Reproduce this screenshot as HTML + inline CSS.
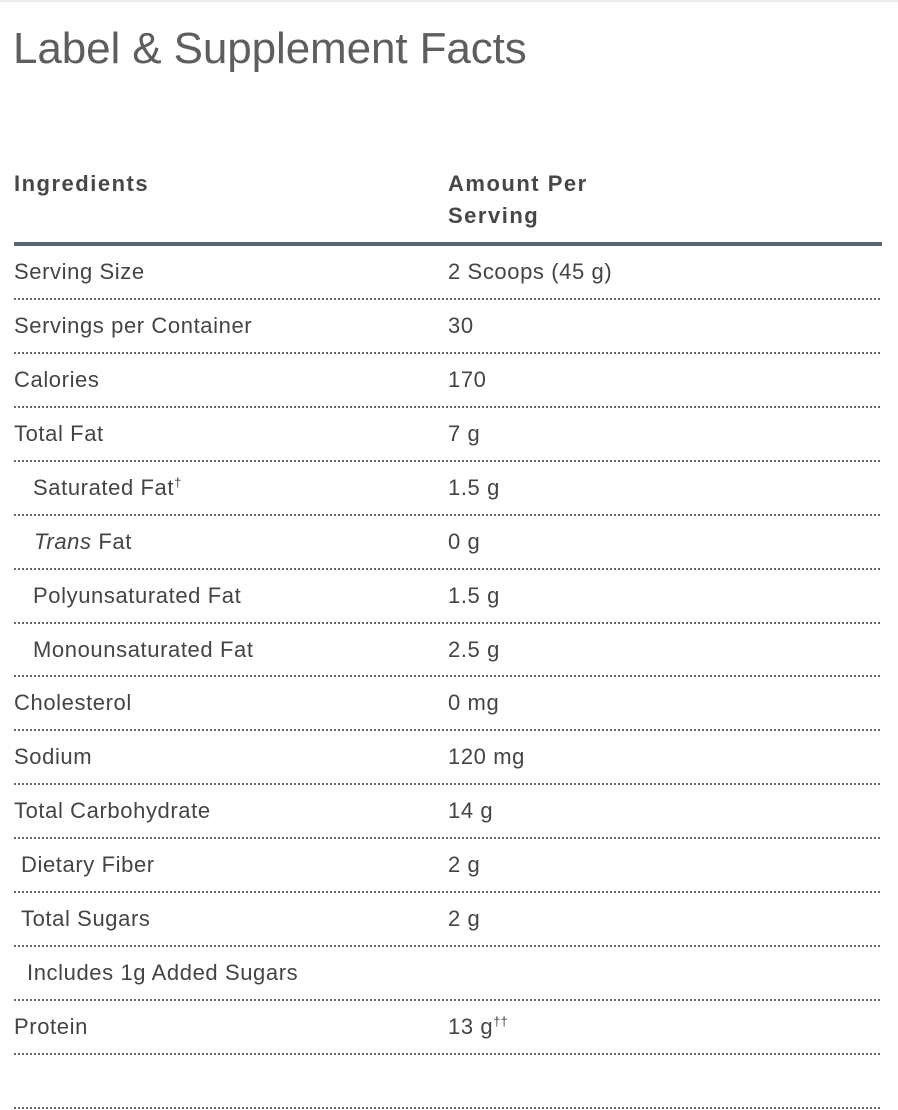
<!DOCTYPE html>
<html>
<head>
<meta charset="utf-8">
<style>
  html, body { margin:0; padding:0; }
  body { width:898px; height:1110px; position:relative; background:#fff; overflow:hidden;
         font-family:"Liberation Sans", Arial, sans-serif; color:#474747; }
  .topbar { position:absolute; left:0; top:0; width:898px; height:2px; background:#ececec; }
  .title { position:absolute; left:13px; top:27px; font-size:44px; line-height:44px; color:#5e5e5e; white-space:nowrap; letter-spacing:-0.1px; }
  .hdr { position:absolute; font-weight:bold; font-size:22px; line-height:32px; letter-spacing:1.5px; color:#474747; white-space:nowrap; }
  .thick { position:absolute; left:14px; top:242px; width:868px; height:4px; background:#5b6770; }
  .dot { position:absolute; left:14px; width:868px; height:2px;
         background:repeating-linear-gradient(90deg, #5f6a72 0 2px, transparent 2px 4px); }
  .cell { position:absolute; font-size:22px; height:52px; line-height:52px; letter-spacing:0.6px; white-space:nowrap; color:#444; }
  .c1 { left:14px; }
  .c2 { left:448px; }
  sup { font-size:13px; line-height:0; vertical-align:8px; letter-spacing:0; }
</style>
</head>
<body>
<div class="topbar"></div>
<div class="title">Label &amp; Supplement Facts</div>

<div class="hdr" style="left:14px; top:168px;">Ingredients</div>
<div class="hdr" style="left:448px; top:168px;">Amount Per<br>Serving</div>
<div class="thick"></div>

<div class="cell c1" style="top:246px;">Serving Size</div>
<div class="cell c2" style="top:246px;">2 Scoops (45 g)</div>
<div class="dot" style="top:298px;"></div>

<div class="cell c1" style="top:300px;">Servings per Container</div>
<div class="cell c2" style="top:300px;">30</div>
<div class="dot" style="top:351.9px;"></div>

<div class="cell c1" style="top:353.9px;">Calories</div>
<div class="cell c2" style="top:353.9px;">170</div>
<div class="dot" style="top:405.9px;"></div>

<div class="cell c1" style="top:407.9px;">Total Fat</div>
<div class="cell c2" style="top:407.9px;">7 g</div>
<div class="dot" style="top:459.8px;"></div>

<div class="cell c1" style="top:461.8px; left:33px;">Saturated Fat<sup>†</sup></div>
<div class="cell c2" style="top:461.8px;">1.5 g</div>
<div class="dot" style="top:513.7px;"></div>

<div class="cell c1" style="top:515.7px; left:34px;"><i>Trans</i> Fat</div>
<div class="cell c2" style="top:515.7px;">0 g</div>
<div class="dot" style="top:567.6px;"></div>

<div class="cell c1" style="top:569.6px; left:33px;">Polyunsaturated Fat</div>
<div class="cell c2" style="top:569.6px;">1.5 g</div>
<div class="dot" style="top:621.5px;"></div>

<div class="cell c1" style="top:623.5px; left:33px;">Monounsaturated Fat</div>
<div class="cell c2" style="top:623.5px;">2.5 g</div>
<div class="dot" style="top:675.4px;"></div>

<div class="cell c1" style="top:677.4px;">Cholesterol</div>
<div class="cell c2" style="top:677.4px;">0 mg</div>
<div class="dot" style="top:729.4px;"></div>

<div class="cell c1" style="top:731.4px;">Sodium</div>
<div class="cell c2" style="top:731.4px;">120 mg</div>
<div class="dot" style="top:783.3px;"></div>

<div class="cell c1" style="top:785.3px;">Total Carbohydrate</div>
<div class="cell c2" style="top:785.3px;">14 g</div>
<div class="dot" style="top:837.2px;"></div>

<div class="cell c1" style="top:839.2px; left:21px;">Dietary Fiber</div>
<div class="cell c2" style="top:839.2px;">2 g</div>
<div class="dot" style="top:891.1px;"></div>

<div class="cell c1" style="top:893.1px; left:21px;">Total Sugars</div>
<div class="cell c2" style="top:893.1px;">2 g</div>
<div class="dot" style="top:945.0px;"></div>

<div class="cell c1" style="top:947.0px; left:27px;">Includes 1g Added Sugars</div>
<div class="dot" style="top:999.0px;"></div>

<div class="cell c1" style="top:1001px;">Protein</div>
<div class="cell c2" style="top:1001px;">13 g<sup>††</sup></div>
<div class="dot" style="top:1052.9px;"></div>

<div class="dot" style="top:1106.8px;"></div>
</body>
</html>
